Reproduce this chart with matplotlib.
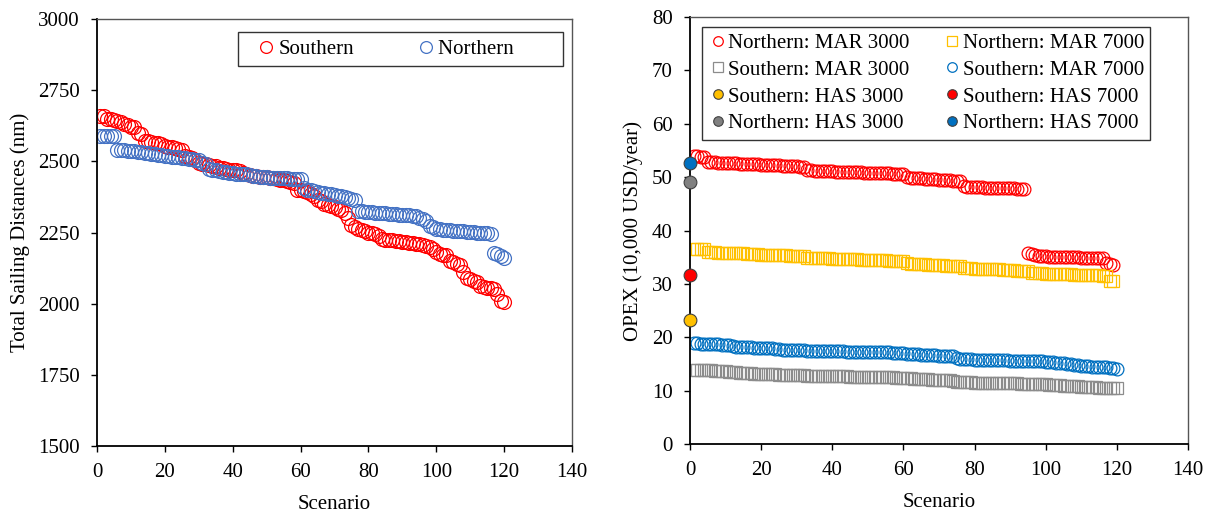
import matplotlib
matplotlib.use('Agg')
import matplotlib.pyplot as plt
import numpy as np

plt.rcParams['font.family'] = ['Liberation Serif', 'DejaVu Serif']
plt.rcParams['font.size'] = 15

# left panel: total sailing distance per scenario
scen_left = np.arange(1, 121)
southern_dist = [2660, 2660, 2650, 2648, 2645, 2640, 2637, 2632, 2628, 2622,
                 2620, 2598, 2595, 2572, 2570, 2568, 2566, 2565, 2560, 2555,
                 2552, 2550, 2548, 2542, 2540, 2520, 2515, 2510, 2505, 2495,
                 2492, 2490, 2488, 2485, 2482, 2478, 2475, 2472, 2470, 2470,
                 2468, 2466, 2458, 2455, 2452, 2450, 2448, 2446, 2445, 2444,
                 2442, 2440, 2438, 2436, 2434, 2430, 2428, 2425, 2400, 2398,
                 2396, 2394, 2385, 2378, 2365, 2360, 2350, 2345, 2342, 2338,
                 2332, 2328, 2320, 2300, 2275, 2268, 2262, 2258, 2255, 2250,
                 2248, 2245, 2238, 2228, 2225, 2224, 2222, 2221, 2220, 2218,
                 2216, 2214, 2212, 2210, 2208, 2205, 2202, 2198, 2192, 2180,
                 2176, 2172, 2170, 2150, 2145, 2140, 2135, 2112, 2090, 2085,
                 2080, 2075, 2062, 2058, 2055, 2055, 2050, 2035, 2008, 2005]
northern_dist = [2590, 2590, 2590, 2588, 2588, 2540, 2540, 2540, 2538, 2538,
                 2535, 2533, 2532, 2530, 2528, 2526, 2525, 2523, 2522, 2520,
                 2518, 2517, 2515, 2514, 2512, 2510, 2508, 2507, 2505, 2503,
                 2495, 2490, 2472, 2470, 2468, 2465, 2463, 2462, 2460, 2458,
                 2457, 2456, 2455, 2454, 2452, 2448, 2447, 2446, 2445, 2444,
                 2443, 2442, 2442, 2441, 2440, 2440, 2439, 2439, 2438, 2438,
                 2405, 2400, 2398, 2395, 2392, 2390, 2388, 2386, 2385, 2383,
                 2380, 2378, 2375, 2372, 2368, 2365, 2325, 2324, 2323, 2322,
                 2321, 2320, 2319, 2318, 2317, 2316, 2315, 2314, 2313, 2312,
                 2311, 2310, 2309, 2308, 2302, 2298, 2292, 2272, 2268, 2262,
                 2261, 2260, 2259, 2258, 2257, 2256, 2255, 2254, 2253, 2252,
                 2251, 2250, 2249, 2248, 2247, 2245, 2178, 2176, 2166, 2162]

# right panel: OPEX per scenario
n_mar3000_x = list(range(1, 95)) + list(range(95, 120))
n_mar3000 = [53.9, 53.9, 53.8, 53.8,
             52.9, 52.8, 52.8, 52.7, 52.7, 52.7, 52.6, 52.6, 52.6, 52.5,
             52.5, 52.5, 52.4, 52.4, 52.4, 52.3, 52.3, 52.3, 52.2, 52.2,
             52.2, 52.1, 52.1, 52.1, 52.0, 52.0, 51.9, 51.9,
             51.3, 51.3, 51.2, 51.2, 51.2, 51.1, 51.1, 51.1, 51.0, 51.0,
             51.0, 51.0, 50.9, 50.9, 50.9, 50.9, 50.8, 50.8, 50.8, 50.8,
             50.7, 50.7, 50.7, 50.7, 50.6, 50.6, 50.6, 50.6,
             50.0, 49.9, 49.9, 49.8, 49.8, 49.7, 49.7, 49.6, 49.6, 49.5,
             49.5, 49.4, 49.4, 49.3, 49.3, 49.2,
             48.3, 48.2, 48.2, 48.1, 48.1, 48.1, 48.0, 48.0, 48.0, 48.0,
             47.9, 47.9, 47.9, 47.9, 47.9, 47.8, 47.8, 47.8,
             35.7, 35.6, 35.4, 35.3, 35.2, 35.2, 35.1, 35.1, 35.1, 35.1,
             35.0, 35.0, 35.0, 35.0, 35.0, 34.9, 34.9, 34.9, 34.9, 34.9,
             34.8, 34.8, 33.9, 33.7, 33.6]
n_mar7000_x = list(range(1, 120))
n_mar7000 = [36.6, 36.6, 36.5, 36.5,
             35.9, 35.9, 35.9, 35.8, 35.8, 35.8, 35.8, 35.7, 35.7, 35.7,
             35.7, 35.6, 35.6, 35.6, 35.6, 35.5, 35.5, 35.5, 35.5, 35.4,
             35.4, 35.4, 35.4, 35.3, 35.3, 35.3, 35.2, 35.2,
             34.9, 34.9, 34.9, 34.8, 34.8, 34.8, 34.8, 34.7, 34.7, 34.7,
             34.7, 34.6, 34.6, 34.6, 34.6, 34.5, 34.5, 34.5, 34.5, 34.4,
             34.4, 34.4, 34.4, 34.3, 34.3, 34.3, 34.3, 34.2,
             33.9, 33.8, 33.8, 33.8, 33.7, 33.7, 33.6, 33.6, 33.6, 33.5,
             33.5, 33.4, 33.4, 33.4, 33.3, 33.3,
             32.9, 32.9, 32.9, 32.8, 32.8, 32.8, 32.8, 32.7, 32.7, 32.7,
             32.7, 32.6, 32.6, 32.6, 32.6, 32.5, 32.5, 32.5, 32.4,
             32.1, 32.0, 32.0, 32.0, 31.9, 31.9, 31.9, 31.9, 31.8, 31.8,
             31.8, 31.8, 31.7, 31.7, 31.7, 31.7, 31.6, 31.6, 31.6, 31.6,
             31.5, 31.5, 30.6, 30.5]
s_mar_x = list(range(1, 121))
s_mar7000 = [18.9, 18.9, 18.8, 18.8, 18.8, 18.7, 18.7, 18.7, 18.6, 18.6,
             18.5, 18.3, 18.2, 18.2, 18.1, 18.1, 18.1, 18.0, 18.0, 18.0,
             18.0, 17.9, 17.9, 17.8, 17.8, 17.7, 17.7, 17.7, 17.6, 17.6,
             17.6, 17.6, 17.5, 17.5, 17.5, 17.5, 17.5, 17.5, 17.4, 17.4,
             17.4, 17.4, 17.4, 17.3, 17.3, 17.3, 17.3, 17.3, 17.3, 17.3,
             17.2, 17.2, 17.2, 17.2, 17.2, 17.2, 17.1, 17.1, 17.1, 17.0,
             16.9, 16.9, 16.8, 16.8, 16.7, 16.7, 16.6, 16.6, 16.6, 16.5,
             16.5, 16.5, 16.4, 16.4, 16.2, 16.0, 15.9, 15.9, 15.9, 15.8,
             15.8, 15.8, 15.8, 15.7, 15.7, 15.7, 15.7, 15.7, 15.7, 15.6,
             15.6, 15.6, 15.6, 15.6, 15.6, 15.5, 15.5, 15.5, 15.5, 15.4,
             15.3, 15.3, 15.2, 15.2, 15.1, 15.0, 14.9, 14.8, 14.8, 14.7,
             14.6, 14.6, 14.5, 14.5, 14.5, 14.4, 14.4, 14.3, 14.2, 14.1]
s_mar3000 = [13.9, 13.9, 13.8, 13.8, 13.8, 13.8, 13.7, 13.7, 13.7, 13.6,
             13.5, 13.4, 13.4, 13.3, 13.3, 13.3, 13.3, 13.2, 13.2, 13.2,
             13.2, 13.1, 13.1, 13.1, 13.0, 13.0, 13.0, 13.0, 12.9, 12.9,
             12.9, 12.9, 12.8, 12.8, 12.8, 12.8, 12.8, 12.8, 12.7, 12.7,
             12.7, 12.7, 12.7, 12.7, 12.6, 12.6, 12.6, 12.6, 12.6, 12.6,
             12.6, 12.6, 12.5, 12.5, 12.5, 12.5, 12.5, 12.4, 12.4, 12.4,
             12.3, 12.3, 12.2, 12.2, 12.1, 12.1, 12.1, 12.0, 12.0, 12.0,
             11.9, 11.9, 11.9, 11.8, 11.7, 11.6, 11.6, 11.6, 11.6, 11.5,
             11.5, 11.5, 11.5, 11.5, 11.5, 11.4, 11.4, 11.4, 11.4, 11.4,
             11.4, 11.4, 11.3, 11.3, 11.3, 11.3, 11.3, 11.2, 11.2, 11.2,
             11.1, 11.1, 11.0, 11.0, 10.9, 10.9, 10.8, 10.8, 10.8, 10.7,
             10.7, 10.6, 10.6, 10.6, 10.5, 10.5, 10.5, 10.4, 10.4, 10.4]
# HAS cases (single point at scenario 0)
s_has3000 = 23.2
s_has7000 = 31.6
n_has3000 = 49.0
n_has7000 = 52.6

fig = plt.figure(figsize=(12.14, 5.14), dpi=100)
ax1 = fig.add_axes([0.0799, 0.1323, 0.3913, 0.8307])
ax2 = fig.add_axes([0.5684, 0.1362, 0.4102, 0.8307])

ms_left = 10
ms_right = 9.2

ax1.plot(scen_left, southern_dist, 'o', ms=ms_left, mfc='none', mec='#ff0000', mew=0.9, label='Southern')
ax1.plot(scen_left, northern_dist, 'o', ms=ms_left, mfc='none', mec='#4472c4', mew=0.9, label='Northern' + ' ' * 8)
ax1.set_xlim(0, 140)
ax1.set_ylim(1500, 3000)
ax1.set_xticks(range(0, 141, 20))
ax1.set_yticks(range(1500, 3001, 250))
ax1.set_xlabel('Scenario', labelpad=9)
ax1.set_ylabel('Total Sailing Distances (nm)', labelpad=6)
ax1.legend(loc='upper left', bbox_to_anchor=(238 / 1214, 1 - 32 / 514), bbox_transform=fig.transFigure,
           ncol=2, frameon=True, fancybox=False, edgecolor='black', handletextpad=-0.42,
           columnspacing=2.45, handlelength=2.0, borderpad=0.35, markerscale=0.85, borderaxespad=0)

h1, = ax2.plot(n_mar3000_x, n_mar3000, 'o', ms=ms_right, mfc='none', mec='#ff0000', mew=0.9, label='Northern: MAR 3000')
h2, = ax2.plot(n_mar7000_x, n_mar7000, 's', ms=ms_right, mfc='none', mec='#ffc000', mew=0.9, label='Northern: MAR 7000')
h4, = ax2.plot(s_mar_x, s_mar7000, 'o', ms=ms_right, mfc='none', mec='#0070c0', mew=0.9, label='Southern: MAR 7000')
h3, = ax2.plot(s_mar_x, s_mar3000, 's', ms=ms_right, mfc='none', mec='#8c8c8c', mew=0.9, label='Southern: MAR 3000')
h5, = ax2.plot([0], [s_has3000], 'o', ms=ms_right, mfc='#ffc000', mec='#404040', mew=0.8, label='Southern: HAS 3000', clip_on=False, zorder=5)
h6, = ax2.plot([0], [s_has7000], 'o', ms=ms_right, mfc='#ff0000', mec='#404040', mew=0.8, label='Southern: HAS 7000', clip_on=False, zorder=5)
h7, = ax2.plot([0], [n_has3000], 'o', ms=ms_right, mfc='#808080', mec='#404040', mew=0.8, label='Northern: HAS 3000', clip_on=False, zorder=5)
h8, = ax2.plot([0], [n_has7000], 'o', ms=ms_right, mfc='#0070c0', mec='#404040', mew=0.8, label='Northern: HAS 7000', clip_on=False, zorder=5)
ax2.set_xlim(0, 140)
ax2.set_ylim(0, 80)
ax2.set_xticks(range(0, 141, 20))
ax2.set_yticks(range(0, 81, 10))
ax2.set_xlabel('Scenario', labelpad=9)
ax2.set_ylabel('OPEX (10,000 USD/year)', labelpad=6)
ax2.legend(handles=[h1, h3, h5, h7, h2, h4, h6, h8], loc='upper left',
           bbox_to_anchor=(702 / 1214, 1 - 27 / 514), bbox_transform=fig.transFigure,
           ncol=2, frameon=True, fancybox=False, edgecolor='black', handletextpad=0.05,
           columnspacing=1.6, handlelength=0.9, borderpad=0.3, labelspacing=0.35,
           markerscale=0.75, borderaxespad=0)

for ax in (ax1, ax2):
    ax.tick_params(direction='out', length=4.5, width=1, labelsize=15, pad=8)
    ax.spines['left'].set_linewidth(1.3)
    ax.spines['bottom'].set_linewidth(1.3)
    for s in ('top', 'right'):
        ax.spines[s].set_linewidth(1.0)
        ax.spines[s].set_color('#555555')
    ax.tick_params(top=False, right=False)

fig.savefig('out.png', dpi=100)
